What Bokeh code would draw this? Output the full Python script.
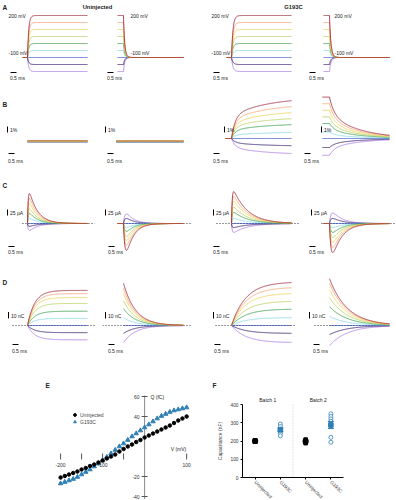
import numpy as np
from bokeh.plotting import figure
from bokeh.models import (Range1d, Label, LinearAxis, FixedTicker, Legend, LegendItem)
from bokeh.layouts import column, row
from bokeh.embed import file_html
from bokeh.resources import INLINE

FONT = "Liberation Sans"

# ------------------------------------------------------------------ data
step_mV = [200, 150, 100, 50, 0, -50, -100, -150, -200]
hold_mV = -100
trace_colors = ["#9b1b30", "#f4a06a", "#f0cf4a", "#b2cc52", "#2e9a44",
                "#7fd6e6", "#2d46c4", "#2a1062", "#a772e6"]
genotypes = ["Uninjected", "G193C"]
pulse_ms = 5.0
clamp_tau_ms = [0.10, 0.12]

# B: fluorescence dF/F (%) at end of pulse (ON) / start of tail (OFF)
dF_uninj_on = [-0.35, -0.45, -0.4, -0.5, -0.45, -0.55, -0.5, -0.6, -0.4]
dF_uninj_off = [-0.4, -0.5, -0.35, -0.45, -0.55, -0.5, -0.6, -0.45, -0.4]
dF_g193c_on = [6.3, 5.3, 4.3, 3.3, 2.3, 1.0, 0.0, -1.2, -2.5]
dF_g193c_off = [6.9, 5.8, 4.7, 3.6, 2.5, 1.1, 0.0, -1.5, -2.8]
dF_on_fast_frac, dF_on_fast_tau, dF_on_slow_tau = 0.6, 0.3, 3.0
dF_off_fast_frac, dF_off_fast_tau, dF_off_slow_tau = 0.42, 0.4, 2.5
b_uninj_draw_order = [8, 7, 6, 5, 4, 3, 0, 2, 1]

# C: gating current peaks (uA)
Ig_uninj_on = [125, 104, 83, 62, 42, 21, 0, -12, -29]
Ig_uninj_off = [-112, -92, -71, -54, -33, -17, 0, 21, 40]
Ig_g193c_on = [133, 112, 92, 67, 46, 21, 0, -17, -37]
Ig_g193c_off = [-121, -100, -79, -58, -37, -17, 0, 21, 44]
Ig_tau_on = [0.7, 1.2]
Ig_tau_off = [0.6, 0.8]
Ig_rise = [0.06, 0.12]  # ON, OFF

# D: charge (nC)
Q_uninj_on = [54, 49, 43, 34, 22, 11, 0, -11, -22]
Q_uninj_off = [65, 57, 49, 38, 26, 12, 0, -12, -26]
Q_g193c_on = [66, 58, 49, 37, 25, 12, 0, -12, -26]
Q_g193c_off = [72, 65, 55, 43, 29, 14, 0, -14, -31]
Q_tau_on = [0.6, 1.2]
Q_tau_off = [1.0, 1.5]

# E: Q-V
qv_V = list(range(-200, 101, 10))
qv_uninj = [-21, -19.5, -18, -16.5, -15, -13, -11.5, -9.5, -8, -6, -4, -2, 0, 2, 5,
            7.5, 10, 12, 14.5, 16.5, 19, 21, 23, 25, 27, 29, 31, 33.5, 36, 38, 40]
qv_g193c = [-27, -25.5, -24, -22.5, -20.5, -18, -15.5, -13, -10, -7, -4, -0.5, 3, 6.5,
            10, 13, 16.5, 20, 23, 26, 29, 32, 35, 38, 40.5, 42.5, 44.5, 46, 47, 48, 49]
e_yticks = [-40, -20, 40, 60]
e_xticks = [-200, -150, -100, -50, 100]
e_xlabels = [-200, -100, 100]

# F: capacitance (nF)
f_categories = ["Uninjected", "G193C", "Uninjected", "G193C"]
f_batches = ["Batch 1", "Batch 2"]
f_yticks = [0, 100, 200, 300, 400]
cap_b1_uninj = [196, 199, 201, 203, 198, 200]
cap_b1_g193c = [293, 279, 266, 257, 242, 229]
cap_b2_uninj = [188, 194, 199, 203, 208, 197]
cap_b2_g193c = [349, 334, 321, 308, 293, 284, 220, 193]

BLUE = "#2f7fb5"
TXT = "#222222"

# ------------------------------------------------------------------ layout geometry (page px)
col_left = [0, 102, 198, 300]
col_w = [102, 96, 102, 96]
col_step = [27, 123, 231, 329]
PX_PER_MS = 12.0
rows = {  # top, bottom, baseline y, baseline value, px per unit
    "A": (10, 82, 57, -100, 0.14),
    "B": (82, 168, 138, 0, 6.0),
    "C": (168, 262, 223, 0, 0.24),
    "D": (262, 358, 325, 0, 0.65),
}


def tx(c, x):
    return (x - col_step[c]) / PX_PER_MS


def vy(r, y):
    top, bot, by, bv, k = rows[r]
    return bv + (by - y) / k


def make_fig(w, h, xr, yr):
    p = figure(width=w, height=h, x_range=Range1d(*xr), y_range=Range1d(*yr),
               output_backend="svg", toolbar_location=None,
               x_axis_location=None, y_axis_location=None, min_border=0)
    p.outline_line_color = None
    p.grid.visible = False
    return p


def add_text(p, x, y, text, size="5px", align="left", bold=False, color=TXT, baseline="middle"):
    p.add_layout(Label(x=x, y=y, text=text, text_font=FONT, text_font_size=size,
                       text_align=align, text_baseline=baseline,
                       text_font_style="bold" if bold else "normal", text_color=color))


def on_frac(t, tau):
    tt = np.clip(t, 0, None)
    return np.where(t < 0, 0.0, 1 - np.exp(-tt / tau))


def off_frac(t, tau):
    tt = np.clip(t, 0, None)
    return np.where(t < 0, 1.0, np.exp(-tt / tau))


def transient(t, tau, tr):
    tt = np.clip(t, 0, None)
    s = np.where(t < 0, 0.0, np.exp(-tt / tau) - np.exp(-tt / tr))
    return s / s.max()


def traces(rname, c):
    g, ph = c // 2, c % 2
    out = []
    if rname == "A":
        t = np.arange(-0.4 if ph == 0 else -0.5, pulse_ms + 1e-9, 0.01)
        for V in step_mV:
            if ph == 0:
                y = hold_mV + (V - hold_mV) * on_frac(t, clamp_tau_ms[g])
            else:
                y = hold_mV + (V - hold_mV) * off_frac(t, clamp_tau_ms[g])
            out.append((t, y))
    elif rname == "B":
        if g == 0:
            t = np.arange(0.0 if ph == 0 else -0.6, pulse_ms + 1e-9, 0.02)
        else:
            t = np.arange(-0.5 if ph == 0 else -0.6, pulse_ms + 1e-9, 0.02)
        vals = [[dF_uninj_on, dF_uninj_off], [dF_g193c_on, dF_g193c_off]][g][ph]
        for v in vals:
            if g == 0:
                y = np.full_like(t, v)
            elif ph == 0:
                y = v * (dF_on_fast_frac * on_frac(t, dF_on_fast_tau)
                         + (1 - dF_on_fast_frac) * on_frac(t, dF_on_slow_tau)
                         / (1 - np.exp(-pulse_ms / dF_on_slow_tau)))
            else:
                y = v * (dF_off_fast_frac * off_frac(t, dF_off_fast_tau)
                         + (1 - dF_off_fast_frac) * off_frac(t, dF_off_slow_tau))
            out.append((t, y))
    elif rname == "C":
        t = np.arange(0.0 if ph == 0 else -0.5, pulse_ms + 1e-9, 0.01)
        vals = [[Ig_uninj_on, Ig_uninj_off], [Ig_g193c_on, Ig_g193c_off]][g][ph]
        tau = [Ig_tau_on, Ig_tau_off][ph][g]
        shape = transient(t, tau, Ig_rise[ph])
        for v in vals:
            out.append((t, v * shape))
    else:
        t = np.arange(0.0, pulse_ms + 1e-9, 0.02)
        vals = [[Q_uninj_on, Q_uninj_off], [Q_g193c_on, Q_g193c_off]][g][ph]
        for v in vals:
            if ph == 0:
                tau = Q_tau_on[g]
                y = v * on_frac(t, tau) / (1 - np.exp(-pulse_ms / tau))
            else:
                y = v * off_frac(t, Q_tau_off[g])
            out.append((t, y))
    return out


# annotation positions (page px)
tbar = {"A": ([10, 107, 213, 309], 72, 77),
        "B": ([8, 107, 213, 304], 153, 160),
        "C": ([8, 108, 213, 309], 246, 251),
        "D": ([12, 108, 214, 313], 344, 350)}
vbar = {"B": ([7, 105, 224, 321], 132, 1.0, "1%", 129),
        "C": ([7, 105, 213, 311], 215, 25.0, "25 µA", 212),
        "D": ([8, 105, 213, 309], 318, 10.0, "10 nC", 315)}
dotted = {"C": [(-0.42, 5.6), (-0.5, 5.6), (-1.25, 5.75), (-0.67, 5.5)],
          "D": [(-1.25, 5.67), (-1.75, 5.58), (-1.33, 5.4), (-1.25, 4.75)]}
letters = {"B": 104, "C": 185, "D": 282}

# ------------------------------------------------------------------ header
header = figure(width=396, height=10, x_range=Range1d(0, 396), y_range=Range1d(10, 0),
                output_backend="svg", toolbar_location=None,
                x_axis_location=None, y_axis_location=None, min_border=0)
header.outline_line_color = None
header.grid.visible = False
add_text(header, 2, 4.5, "A", size="6.5px", bold=True)
add_text(header, 97, 4.5, genotypes[0], size="5.8px", align="center", bold=True)
add_text(header, 293, 4.5, genotypes[1], size="5.8px", align="center", bold=True)

# ------------------------------------------------------------------ trace panels
grid_rows = [header]
for rname in "ABCD":
    top, bot, by, bv, k = rows[rname]
    figs = []
    for c in range(4):
        xr = (tx(c, col_left[c]), tx(c, col_left[c] + col_w[c]))
        yr = (vy(rname, bot), vy(rname, top))
        p = make_fig(col_w[c], bot - top, xr, yr)
        if rname in dotted:
            d0, d1 = dotted[rname][c]
            p.line([d0, d1], [0, 0], line_color="black", line_width=0.8, line_dash="1 2")
        tr = traces(rname, c)
        order = b_uninj_draw_order if (rname == "B" and c < 2) else list(reversed(range(len(tr))))
        for i in order:
            t, y = tr[i]
            p.line(t, y, line_color=trace_colors[i], line_width=0.8)
        xs, yb, yl = tbar[rname]
        x0 = tx(c, xs[c])
        p.line([x0, x0 + 0.5], [vy(rname, yb)] * 2, line_color="black", line_width=1)
        add_text(p, x0 - 0.05, vy(rname, yl), "0.5 ms", size="5px")
        if rname in vbar:
            xv, yv0, unit, txt, ylab = vbar[rname]
            xb = tx(c, xv[c])
            y0 = vy(rname, yv0)
            p.line([xb, xb], [y0, y0 + unit], line_color="black", line_width=1)
            add_text(p, tx(c, xv[c] + 2.5), vy(rname, ylab), txt, size="5px")
        if rname == "A":
            lx = [8, 130, 211, 334][c]
            add_text(p, tx(c, lx), vy("A", 15), "200 mV", size="5px")
            add_text(p, tx(c, lx), vy("A", 52), "-100 mV", size="5px")
        if c == 0 and rname in letters:
            add_text(p, tx(0, 2), vy(rname, letters[rname]), rname, size="6.5px", bold=True)
        figs.append(p)
    grid_rows.append(row(*figs))

# ------------------------------------------------------------------ E: Q-V (axes crossing at origin)
E_W, E_H = 200, 141
e_xr = (-343, 133)
e_yr = (-43, 98)
pe = make_fig(E_W, E_H, e_xr, e_yr)
mv_per_px = (e_xr[1] - e_xr[0]) / E_W
AX = "#8a8a8a"
pe.segment(x0=[0], y0=[-50], x1=[0], y1=[61], line_color=AX, line_width=1)
pe.segment(x0=[-3 * mv_per_px] * len(e_yticks), y0=e_yticks,
           x1=[3 * mv_per_px] * len(e_yticks), y1=e_yticks, line_color="#555555", line_width=1)
for v in e_yticks:
    add_text(pe, -5 * mv_per_px, v, str(v), size="5px", align="right", color="#333333")
pe.segment(x0=e_xticks, y0=[-3] * len(e_xticks), x1=e_xticks, y1=[3] * len(e_xticks),
           line_color="#555555", line_width=1)
for v in e_xlabels:
    add_text(pe, v, -8, str(v), size="5px", align="center", color="#333333")
r_g = pe.scatter(qv_V, qv_g193c, marker="triangle", size=4.5, color=BLUE)
r_u = pe.scatter(qv_V, qv_uninj, marker="circle", size=3.5, color="black")
leg = Legend(items=[LegendItem(label="Uninjected", renderers=[r_u]),
                    LegendItem(label="G193C", renderers=[r_g])],
             location=(71, 74), padding=0, margin=0, spacing=0,
             glyph_height=7, glyph_width=7, label_height=7, label_standoff=2,
             label_text_font=FONT, label_text_font_size="5px",
             background_fill_alpha=0, border_line_alpha=0)
pe.add_layout(leg)
add_text(pe, -236, 71, "E", size="6.5px", bold=True)
add_text(pe, 14, 60, "Q (fC)", size="5px")
add_text(pe, 62, 8, "V (mV)", size="5px")

# ------------------------------------------------------------------ F: capacitance
F_W, F_H = 196, 141
F_PX_PER_CAT = 101 / 4.0       # frame 242..343 spans 0.5..4.5
F_PX_PER_NF = 73 / 400.0       # axis 477..404 spans 0..400
f_xr = (0.5 - 42 / F_PX_PER_CAT, 4.5 + 53 / F_PX_PER_CAT)
f_yr = (-(499 - 477) / F_PX_PER_NF, (477 - 358) / F_PX_PER_NF)
pf = make_fig(F_W, F_H, f_xr, f_yr)
fy = LinearAxis(fixed_location=0.5, ticker=FixedTicker(ticks=f_yticks), bounds=(0, 400),
                axis_label="Capacitance (nF)")
fx = LinearAxis(fixed_location=0, ticker=FixedTicker(ticks=[1, 2, 3, 4]), bounds=(0.5, 4.5),
                major_label_overrides={i + 1: s for i, s in enumerate(f_categories)},
                major_label_orientation=-np.pi / 4)
for ax in (fx, fy):
    ax.axis_line_color = "black"
    ax.major_tick_line_color = "black"
    ax.minor_tick_line_color = None
    ax.major_tick_in = 0
    ax.major_tick_out = 2
    ax.major_label_text_font = FONT
    ax.major_label_text_font_size = "4.8px"
    ax.major_label_text_color = "#333333"
    ax.major_label_standoff = 2
    ax.axis_label_text_font = FONT
    ax.axis_label_text_font_size = "5px"
    ax.axis_label_text_font_style = "normal"
    ax.axis_label_standoff = 4
pf.add_layout(fy, "left")
pf.add_layout(fx, "below")
pf.segment(x0=[2.5], y0=[0], x1=[2.5], y1=[400], line_color="#bbbbbb", line_width=0.8,
           line_dash="1 2")
groups = [(1, cap_b1_uninj, "black"), (2, cap_b1_g193c, BLUE),
          (3, cap_b2_uninj, "black"), (4, cap_b2_g193c, BLUE)]
for xi, vals, col in groups:
    arr = np.array(vals, dtype=float)
    m = arr.mean()
    sem = arr.std(ddof=1) / np.sqrt(len(arr))
    if col == "black":
        pf.scatter([xi] * len(arr), arr, marker="square", size=3.5, color="black")
    else:
        pf.scatter([xi] * len(arr), arr, marker="circle", size=4, fill_color="white",
                   line_color=col, line_width=0.8)
    pf.segment(x0=[xi], y0=[m - sem], x1=[xi], y1=[m + sem], line_color=col, line_width=1)
    pf.segment(x0=[xi - 0.12] * 2, y0=[m - sem, m + sem], x1=[xi + 0.12] * 2,
               y1=[m - sem, m + sem], line_color=col, line_width=1)
    pf.scatter([xi], [m], marker="square", size=4.5, color=col)
add_text(pf, 1.5, 422, f_batches[0], size="5px", align="center")
add_text(pf, 3.5, 422, f_batches[1], size="5px", align="center")
add_text(pf, 0.5 - 30 / F_PX_PER_CAT, 400 + 19 / F_PX_PER_NF, "F", size="6.5px", bold=True)

grid_rows.append(row(pe, pf))
layout = column(*grid_rows)

with open("out.html", "w") as fh:
    fh.write(file_html(layout, INLINE))
